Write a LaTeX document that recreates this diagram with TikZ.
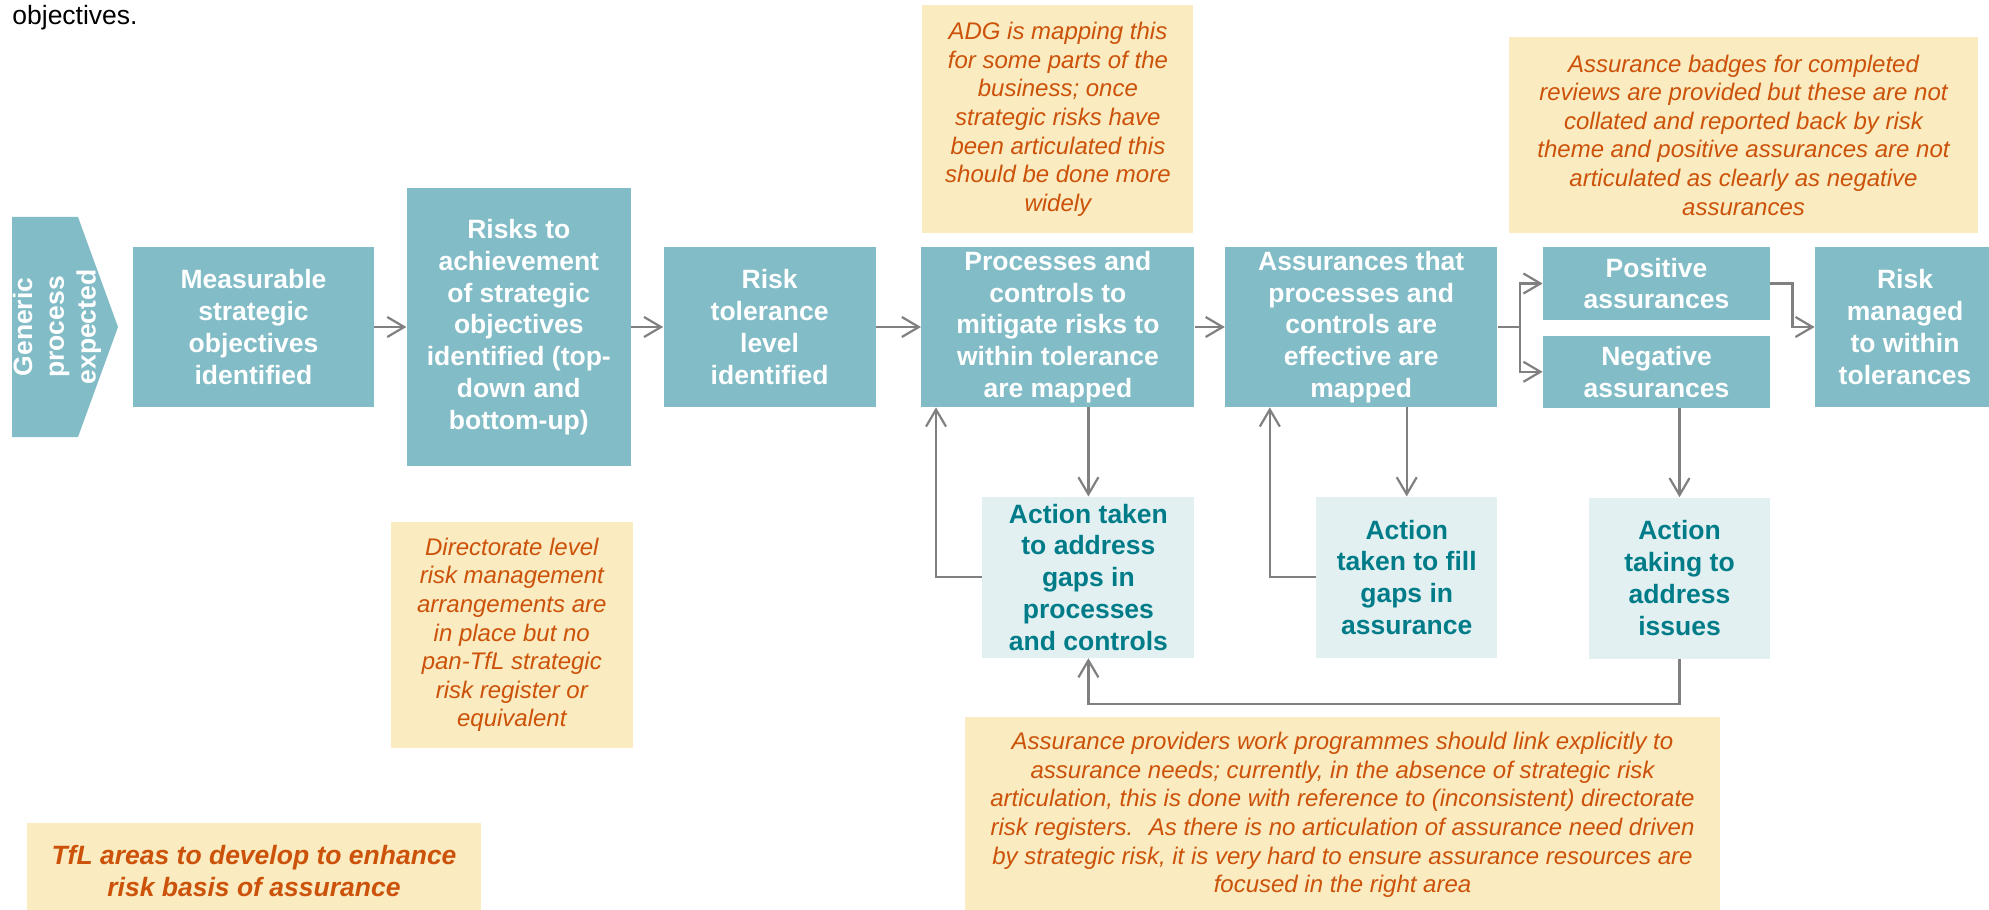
\documentclass[tikz,border=0pt]{standalone}
\usepackage{fontspec}
\setmainfont{Liberation Sans}
\usepackage{tikz}
\usetikzlibrary{arrows.meta,positioning}

\definecolor{tealbox}{RGB}{129,188,199}
\definecolor{actfill}{RGB}{226,240,242}
\definecolor{actteal}{RGB}{0,124,137}
\definecolor{notefill}{RGB}{250,235,192}
\definecolor{notetext}{RGB}{204,82,10}
\definecolor{arrowgray}{RGB}{128,128,128}

\newcommand{\stagefont}{\fontsize{13.25pt}{15.9pt}\selectfont\bfseries}
\newcommand{\remarkfont}{\fontsize{12pt}{14.3pt}\selectfont\itshape}

\tikzstyle{stagebox} = [rectangle, minimum height=80pt, inner sep=0pt, align=center, fill=tealbox, text=white, font=\stagefont]
\tikzstyle{actionbox} = [rectangle, minimum height=80.5pt, inner sep=0pt, align=center, fill=actfill, text=actteal, font=\stagefont]
\tikzstyle{remark} = [rectangle, inner sep=0pt, align=center, fill=notefill, text=notetext, font=\remarkfont]
\tikzstyle{arrow} = [line width=1.1pt, draw=arrowgray, -{Straight Barb[length=8.5pt,width=10pt]}]

\begin{document}
\begin{tikzpicture}

\useasboundingbox (0,0) rectangle (994.5pt,-454.5pt);
\fill[white] (0,0) rectangle (994.5pt,-454.5pt);

\node (objtxt) [anchor=base west, inner sep=0pt, font=\fontsize{13.25pt}{15.9pt}\selectfont] at (6pt,-12.5pt) {objectives.};

% generic process chevron
\fill[tealbox] (6pt,-108.5pt) -- (39pt,-108.5pt) -- (59pt,-163.5pt) -- (39pt,-218.5pt) -- (6pt,-218.5pt) -- cycle;
\node (gen) [rotate=90, inner sep=0pt, align=center, text=white, font=\stagefont] at (28.5pt,-163.5pt) {Generic\\process\\expected};

\node (meas) [stagebox, minimum width=120.5pt] at (126.75pt,-163.5pt) {Measurable\\strategic\\objectives\\identified};
\node (risks) [stagebox, minimum width=112pt, minimum height=139pt, right=16pt of meas] {Risks to\\achievement\\of strategic\\objectives\\identified (top-\\down and\\bottom-up)};
\node (tol) [stagebox, minimum width=106pt, right=16pt of risks] {Risk\\tolerance\\level\\identified};
\node (proc) [stagebox, minimum width=136.5pt, right=22.5pt of tol] {Processes and\\controls to\\mitigate risks to\\within tolerance\\are mapped};
\node (assur) [stagebox, minimum width=136pt, right=15pt of proc] {Assurances that\\processes and\\controls are\\effective are\\mapped};

\node (pos) [stagebox, minimum width=113.5pt, minimum height=36.5pt, right=22.5pt of assur, yshift=21.75pt] {Positive\\assurances};
\node (neg) [stagebox, minimum width=113.5pt, minimum height=36pt, below=7.5pt of pos] {Negative\\assurances};
\node (riskman) [stagebox, minimum width=90pt, right=158.5pt of assur] {Risk\\managed\\to within\\tolerances};

\node (act1) [actionbox, minimum width=106pt, below=44.5pt of proc.south east, anchor=north east] {Action taken\\to address\\gaps in\\processes\\and controls};
\node (act2) [actionbox, minimum width=90.5pt, below=44.5pt of assur.south east, anchor=north east] {Action\\taken to fill\\gaps in\\assurance};
\node (act3) [actionbox, minimum width=90.5pt, below=44.5pt of neg.south east, anchor=north east] {Action\\taking to\\address\\issues};

% comments on the TfL position
\node (adg) [remark, minimum width=135.5pt, minimum height=114pt, above=6.5pt of proc] {ADG is mapping this\\for some parts of the\\business; once\\strategic risks have\\been articulated this\\should be done more\\widely};
\node (badge) [remark, minimum width=234.5pt, minimum height=98pt] at (871.75pt,-67.5pt) {Assurance badges for completed\\reviews are provided but these are not\\collated and reported back by risk\\theme and positive assurances are not\\articulated as clearly as negative\\assurances};
\node (dir) [remark, minimum width=121pt, minimum height=113pt, below=27.5pt of risks, xshift=-3.5pt] {Directorate level\\risk management\\arrangements are\\in place but no\\pan-TfL strategic\\risk register or\\equivalent};
\node (prov) [remark, minimum width=377.5pt, minimum height=98pt] at (671.25pt,-407.5pt) {Assurance providers work programmes should link explicitly to\\assurance needs; currently, in the absence of strategic risk\\articulation, this is done with reference to (inconsistent) directorate\\risk registers.~ As there is no articulation of assurance need driven\\by strategic risk, it is very hard to ensure assurance resources are\\focused in the right area};
\node (tfl) [remark, minimum width=227pt, minimum height=48pt, font=\stagefont\itshape] at (127pt,-435.5pt) {TfL areas to develop to enhance\\risk basis of assurance};

\draw [arrow] (meas) -- (risks);
\draw [arrow] (risks) -- (tol);
\draw [arrow] (tol) -- (proc);
\draw [arrow] (proc) -- (assur);
\draw [arrow] (assur.east) -- ++(11pt,0) |- (pos.west);
\draw [arrow] (assur.east) -- ++(11pt,0) |- (neg.west);
\draw [arrow] (pos.east) -- ++(11pt,0) |- (riskman.west);

\draw [arrow] (act1.north |- proc.south) -- (act1.north);
\draw [arrow] (act1.west) -| ([xshift=7.5pt]proc.south west);
\draw [arrow] (act2.north |- assur.south) -- (act2.north);
\draw [arrow] (act2.west) -| ([xshift=22.5pt]assur.south west);
\draw [arrow] (act3.north |- neg.south) -- (act3.north);
\draw [arrow] (act3.south) -- ++(0,-22.5pt) -| (act1.south);

\end{tikzpicture}
\end{document}
